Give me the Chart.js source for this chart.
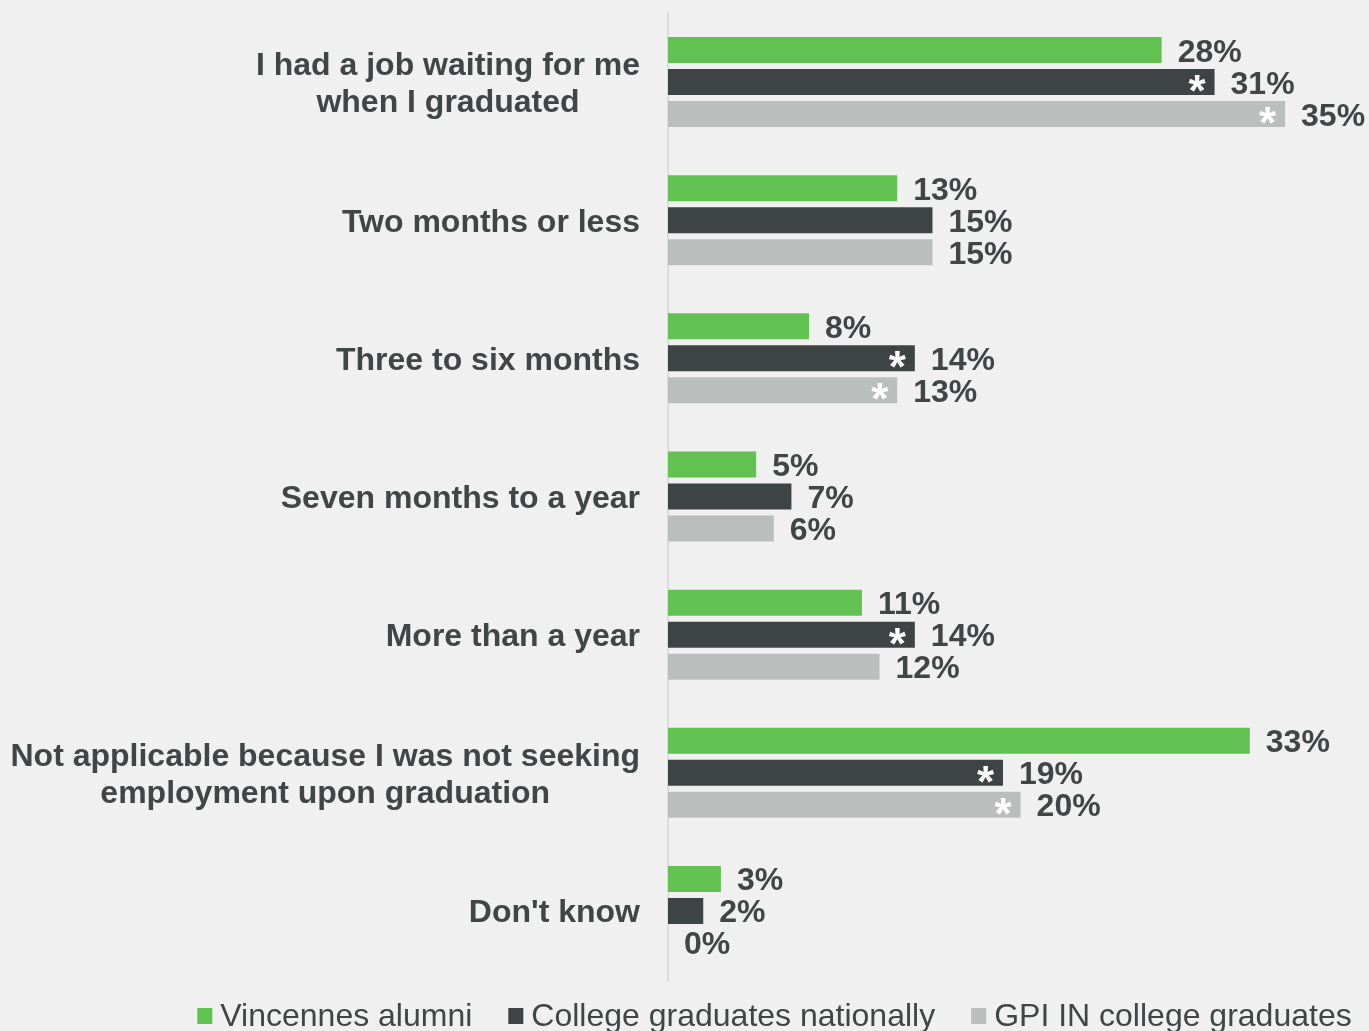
<!DOCTYPE html>
<html><head><meta charset="utf-8">
<script src="https://cdn.jsdelivr.net/npm/chart.js@4/dist/chart.umd.min.js"></script>
<style>html,body{margin:0;padding:0;background:#F0F0F0;overflow:hidden}#wrap{width:1369px;height:1031px;position:relative}</style>
</head><body><div id="wrap"><canvas id="c" width="1369" height="1031"></canvas></div>
<script>
const categories = [
  ["I had a job waiting for me", "when I graduated"],
  ["Two months or less"],
  ["Three to six months"],
  ["Seven months to a year"],
  ["More than a year"],
  ["Not applicable because I was not seeking", "employment upon graduation"],
  ["Don't know"]
];
const seriesNames = ["Vincennes alumni", "College graduates nationally", "GPI IN college graduates"];
const vincennesAlumni = [28, 13, 8, 5, 11, 33, 3];
const collegeNationally = [31, 15, 14, 7, 14, 19, 2];
const gpiInGraduates = [35, 15, 13, 6, 12, 20, 0];
const vincennesStar = [false, false, false, false, false, false, false];
const nationallyStar = [true, false, true, false, true, true, false];
const gpiStar = [true, false, true, false, false, true, false];
const valueSuffix = "%";

const colors = ["#62C251", "#3E4444", "#BABFBE"];
const textColor = "#404545";
const FONT = '"Liberation Sans", Arial, sans-serif';
const starFlags = [vincennesStar, nationallyStar, gpiStar];

const bgPlugin = {
  id: 'bg',
  beforeDraw(chart) {
    const ctx = chart.ctx;
    ctx.save();
    ctx.fillStyle = '#F0F0F0';
    ctx.fillRect(0, 0, chart.width, chart.height);
    ctx.restore();
  }
};

const catLabelPlugin = {
  id: 'catLabels',
  afterDraw(chart) {
    const ctx = chart.ctx;
    const yScale = chart.scales.y;
    const rightEdge = chart.chartArea.left - 28;
    ctx.save();
    ctx.font = 'bold 32px ' + FONT;
    ctx.fillStyle = textColor;
    ctx.textAlign = 'center';
    ctx.textBaseline = 'alphabetic';
    categories.forEach((lines, i) => {
      const yc = yScale.getPixelForValue(i);
      const widest = Math.max(...lines.map(l => ctx.measureText(l).width));
      const cx = rightEdge - widest / 2;
      const lh = 37;
      const n = lines.length;
      lines.forEach((l, k) => {
        const ly = yc + (k - (n - 1) / 2) * lh;
        ctx.fillText(l, cx, ly + 11.5);
      });
    });
    ctx.restore();
  }
};

const valueLabelPlugin = {
  id: 'valueLabels',
  afterDatasetsDraw(chart) {
    const ctx = chart.ctx;
    ctx.save();
    chart.data.datasets.forEach((ds, di) => {
      const meta = chart.getDatasetMeta(di);
      meta.data.forEach((bar, i) => {
        const v = ds.data[i];
        const y = bar.y;
        const xEnd = bar.x;
        // value label
        ctx.font = 'bold 32px ' + FONT;
        ctx.fillStyle = textColor;
        ctx.textAlign = 'left';
        ctx.textBaseline = 'alphabetic';
        ctx.fillText(v + valueSuffix, xEnd + 16, y + 11.5);
        // significance star
        if (starFlags[di][i]) {
          ctx.font = 'bold 44px ' + FONT;
          ctx.fillStyle = '#FFFFFF';
          const m = ctx.measureText('*');
          const asc = m.actualBoundingBoxAscent, desc = m.actualBoundingBoxDescent;
          const bx = xEnd - 8 - m.actualBoundingBoxRight;
          const by = (y + 1.5) - (desc - asc) / 2;
          ctx.fillText('*', bx, by);
        }
      });
    });
    ctx.restore();
  }
};

const legendPlugin = {
  id: 'customLegend',
  afterDraw(chart) {
    const ctx = chart.ctx;
    ctx.save();
    ctx.font = '32px ' + FONT;
    ctx.textBaseline = 'alphabetic';
    ctx.textAlign = 'left';
    const box = 15, gapText = 8, gapItem = 36;
    const items = chart.data.datasets.map(ds => ({label: ds.label, color: ds.backgroundColor, w: ctx.measureText(ds.label).width}));
    const total = items.reduce((s, it) => s + box + gapText + it.w, 0) + gapItem * (items.length - 1);
    let x = 774.5 - total / 2;
    const baseline = 1026;
    items.forEach(it => {
      ctx.fillStyle = it.color;
      ctx.fillRect(x, 1008, box, 16);
      ctx.fillStyle = textColor;
      ctx.fillText(it.label, x + box + gapText, baseline);
      x += box + gapText + it.w + gapItem;
    });
    ctx.restore();
  }
};

new Chart(document.getElementById('c'), {
  type: 'bar',
  data: {
    labels: categories.map(c => c.join(' ')),
    datasets: [
      {label: seriesNames[0], data: vincennesAlumni, backgroundColor: colors[0]},
      {label: seriesNames[1], data: collegeNationally, backgroundColor: colors[1]},
      {label: seriesNames[2], data: gpiInGraduates, backgroundColor: colors[2]}
    ]
  },
  options: {
    indexAxis: 'y',
    responsive: false,
    animation: false,
    devicePixelRatio: 1,
    categoryPercentage: 0.695,
    barPercentage: 0.8125,
    layout: {padding: {left: 0, right: 0, top: 13, bottom: 51}},
    scales: {
      x: {display: false, min: 0, max: 39.76},
      y: {
        display: true,
        ticks: {display: false},
        grid: {display: true, drawOnChartArea: false, drawTicks: false},
        border: {display: true, color: '#DCDCDC', width: 2},
        afterFit(scale) { scale.width = 668; }
      }
    },
    plugins: {legend: {display: false}, tooltip: {enabled: false}}
  },
  plugins: [bgPlugin, catLabelPlugin, valueLabelPlugin, legendPlugin]
});
</script>
</body></html>
